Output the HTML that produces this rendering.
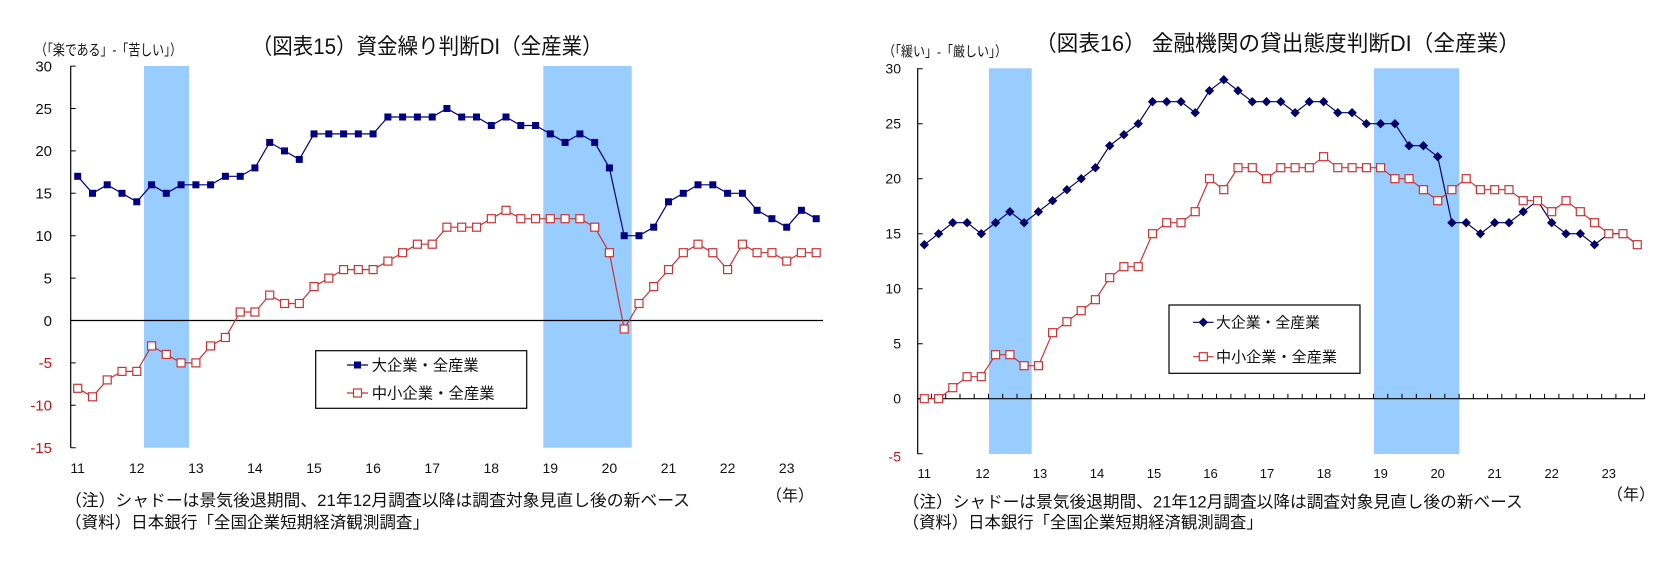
<!DOCTYPE html>
<html><head><meta charset="utf-8">
<style>
html,body{margin:0;padding:0;background:#fff;}
svg{display:block;}
text{font-family:"Liberation Sans","Noto Sans CJK JP",sans-serif;fill:#111;}
</style></head>
<body>
<svg width="1667" height="565" viewBox="0 0 1667 565" xmlns="http://www.w3.org/2000/svg">
<defs>
<marker id="mSq" markerUnits="userSpaceOnUse" markerWidth="10" markerHeight="10" refX="5" refY="5" overflow="visible">
<rect x="1.5" y="1.5" width="7" height="7" fill="#000080"/>
</marker>
<marker id="mOSq" markerUnits="userSpaceOnUse" markerWidth="12" markerHeight="12" refX="6" refY="6" overflow="visible">
<rect x="2" y="2" width="8" height="8" fill="#fff" stroke="#cc3333" stroke-width="1.2"/>
</marker>
<marker id="mDia" markerUnits="userSpaceOnUse" markerWidth="12" markerHeight="12" refX="6" refY="6" overflow="visible">
<path d="M6,1.3 L10.7,6 L6,10.7 L1.3,6 Z" fill="#000066"/>
</marker>
</defs>
<rect width="1667" height="565" fill="#fff"/>

<!-- ================= CHART 1 ================= -->
<text x="251.7" y="54" font-size="22" textLength="351" lengthAdjust="spacingAndGlyphs">（図表15）資金繰り判断DI（全産業）</text>
<text x="35" y="55" font-size="15" textLength="147" lengthAdjust="spacingAndGlyphs">（「楽である」-「苦しい」）</text>

<rect x="144" y="66" width="45" height="381.7" fill="#99ccff"/>
<rect x="543.3" y="66" width="88.4" height="381.7" fill="#99ccff"/>

<!-- axis -->
<line x1="70.7" y1="66" x2="70.7" y2="447.7" stroke="#000" stroke-width="1.2"/>
<path d="M70.7,66.1H75.7M70.7,108.5H75.7M70.7,150.9H75.7M70.7,193.3H75.7M70.7,235.7H75.7M70.7,278.1H75.7M70.7,320.5H75.7M70.7,362.9H75.7M70.7,405.3H75.7M70.7,447.7H75.7" stroke="#000" stroke-width="1"/>
<line x1="70.7" y1="320.5" x2="823" y2="320.5" stroke="#000" stroke-width="1.2"/>

<g font-size="15" text-anchor="end">
<text x="52" y="71.4">30</text>
<text x="52" y="113.8">25</text>
<text x="52" y="156.2">20</text>
<text x="52" y="198.6">15</text>
<text x="52" y="241">10</text>
<text x="52" y="283.4">5</text>
<text x="52" y="325.8">0</text>
<text x="52" y="368.2" style="fill:#cc1111">-5</text>
<text x="52" y="410.6" style="fill:#cc1111">-10</text>
<text x="52" y="453" style="fill:#cc1111">-15</text>
</g>

<g font-size="14" text-anchor="middle">
<text x="77.7" y="473">11</text>
<text x="136.8" y="473">12</text>
<text x="195.9" y="473">13</text>
<text x="254.9" y="473">14</text>
<text x="314" y="473">15</text>
<text x="373.1" y="473">16</text>
<text x="432.2" y="473">17</text>
<text x="491.3" y="473">18</text>
<text x="550.3" y="473">19</text>
<text x="609.4" y="473">20</text>
<text x="668.5" y="473">21</text>
<text x="727.6" y="473">22</text>
<text x="786.7" y="473">23</text>
</g>
<text x="790" y="501" font-size="16" text-anchor="middle">（年）</text>

<!-- series -->
<polyline fill="none" stroke="#000080" stroke-width="1.2" marker-start="url(#mSq)" marker-mid="url(#mSq)" marker-end="url(#mSq)"
points="77.7,176.3 92.5,193.3 107.2,184.8 122.0,193.3 136.8,201.8 151.6,184.8 166.3,193.3 181.1,184.8 195.9,184.8 210.6,184.8 225.4,176.3 240.2,176.3 254.9,167.9 269.7,142.4 284.5,150.9 299.3,159.4 314.0,133.9 328.8,133.9 343.6,133.9 358.3,133.9 373.1,133.9 387.9,117.0 402.6,117.0 417.4,117.0 432.2,117.0 446.9,108.5 461.7,117.0 476.5,117.0 491.3,125.5 506.0,117.0 520.8,125.5 535.6,125.5 550.3,133.9 565.1,142.4 579.9,133.9 594.7,142.4 609.4,167.9 624.2,235.7 639.0,235.7 653.7,227.2 668.5,201.8 683.3,193.3 698.0,184.8 712.8,184.8 727.6,193.3 742.4,193.3 757.1,210.3 771.9,218.7 786.7,227.2 801.4,210.3 816.2,218.7"/>
<polyline fill="none" stroke="#cc3333" stroke-width="1.2" marker-start="url(#mOSq)" marker-mid="url(#mOSq)" marker-end="url(#mOSq)"
points="77.7,388.3 92.5,396.8 107.2,379.9 122.0,371.4 136.8,371.4 151.6,345.9 166.3,354.4 181.1,362.9 195.9,362.9 210.6,345.9 225.4,337.5 240.2,312.0 254.9,312.0 269.7,295.1 284.5,303.5 299.3,303.5 314.0,286.6 328.8,278.1 343.6,269.6 358.3,269.6 373.1,269.6 387.9,261.1 402.6,252.7 417.4,244.2 432.2,244.2 446.9,227.2 461.7,227.2 476.5,227.2 491.3,218.7 506.0,210.3 520.8,218.7 535.6,218.7 550.3,218.7 565.1,218.7 579.9,218.7 594.7,227.2 609.4,252.7 624.2,329.0 639.0,303.5 653.7,286.6 668.5,269.6 683.3,252.7 698.0,244.2 712.8,252.7 727.6,269.6 742.4,244.2 757.1,252.7 771.9,252.7 786.7,261.1 801.4,252.7 816.2,252.7"/>

<!-- legend 1 -->
<rect x="315.7" y="350.7" width="211" height="57.6" fill="#fff" stroke="#000" stroke-width="1.2"/>
<line x1="347" y1="365" x2="368" y2="365" stroke="#000080" stroke-width="1.2"/>
<rect x="354" y="361.5" width="7" height="7" fill="#000080"/>
<text x="371.7" y="370.5" font-size="15.5" textLength="107" lengthAdjust="spacingAndGlyphs">大企業・全産業</text>
<line x1="347" y1="393" x2="368" y2="393" stroke="#cc3333" stroke-width="1.2"/>
<rect x="353.5" y="389" width="8" height="8" fill="#fff" stroke="#cc3333" stroke-width="1.2"/>
<text x="371.7" y="398.5" font-size="15.5" textLength="123" lengthAdjust="spacingAndGlyphs">中小企業・全産業</text>

<!-- notes 1 -->
<text x="65" y="506" font-size="16.5" textLength="625" lengthAdjust="spacingAndGlyphs">（注）シャドーは景気後退期間、21年12月調査以降は調査対象見直し後の新ベース</text>
<text x="65" y="528" font-size="16.5" textLength="364" lengthAdjust="spacingAndGlyphs">（資料）日本銀行「全国企業短期経済観測調査」</text>

<!-- ================= CHART 2 ================= -->
<text x="1035" y="51" font-size="22" textLength="485" lengthAdjust="spacingAndGlyphs">（図表16） 金融機関の貸出態度判断DI（全産業）</text>
<text x="883" y="56.5" font-size="14" textLength="124" lengthAdjust="spacingAndGlyphs">（「緩い」-「厳しい」）</text>

<rect x="989" y="68.3" width="42.7" height="385.7" fill="#99ccff"/>
<rect x="1374" y="68.3" width="85.3" height="385.7" fill="#99ccff"/>

<line x1="917.7" y1="68.3" x2="917.7" y2="454" stroke="#000" stroke-width="1.2"/>
<path d="M917.7,68.7H922.7M917.7,123.7H922.7M917.7,178.7H922.7M917.7,233.7H922.7M917.7,288.7H922.7M917.7,343.7H922.7M917.7,398.7H922.7M917.7,453.7H922.7" stroke="#000" stroke-width="1"/>
<line x1="917.7" y1="398.7" x2="1644.5" y2="398.7" stroke="#000" stroke-width="1.2"/>
<path stroke="#000" stroke-width="1" d="M931.4,398.7V393.7M945.7,398.7V393.7M960,398.7V393.7M974.2,398.7V393.7M988.5,398.7V393.7M1002.7,398.7V393.7M1017,398.7V393.7M1031.2,398.7V393.7M1045.5,398.7V393.7M1059.8,398.7V393.7M1074,398.7V393.7M1088.3,398.7V393.7M1102.5,398.7V393.7M1116.8,398.7V393.7M1131.1,398.7V393.7M1145.3,398.7V393.7M1159.6,398.7V393.7M1173.8,398.7V393.7M1188.1,398.7V393.7M1202.4,398.7V393.7M1216.6,398.7V393.7M1230.9,398.7V393.7M1245.1,398.7V393.7M1259.4,398.7V393.7M1273.7,398.7V393.7M1287.9,398.7V393.7M1302.2,398.7V393.7M1316.5,398.7V393.7M1330.7,398.7V393.7M1345,398.7V393.7M1359.2,398.7V393.7M1373.5,398.7V393.7M1387.8,398.7V393.7M1402,398.7V393.7M1416.3,398.7V393.7M1430.5,398.7V393.7M1444.8,398.7V393.7M1459.1,398.7V393.7M1473.3,398.7V393.7M1487.6,398.7V393.7M1501.8,398.7V393.7M1516.1,398.7V393.7M1530.4,398.7V393.7M1544.6,398.7V393.7M1558.9,398.7V393.7M1573.1,398.7V393.7M1587.4,398.7V393.7M1601.7,398.7V393.7M1615.9,398.7V393.7M1630.2,398.7V393.7M1644.5,398.7V393.7"/>

<g font-size="14" text-anchor="end">
<text x="901" y="73.7">30</text>
<text x="901" y="128.7">25</text>
<text x="901" y="183.7">20</text>
<text x="901" y="238.7">15</text>
<text x="901" y="293.7">10</text>
<text x="901" y="348.7">5</text>
<text x="901" y="403.7">0</text>
<text x="901" y="461.5" style="fill:#cc1111">-5</text>
</g>

<g font-size="13" text-anchor="middle">
<text x="924.3" y="478">11</text>
<text x="982.5" y="478">12</text>
<text x="1040" y="478">13</text>
<text x="1097" y="478">14</text>
<text x="1154" y="478">15</text>
<text x="1210.5" y="478">16</text>
<text x="1267" y="478">17</text>
<text x="1324" y="478">18</text>
<text x="1380.6" y="478">19</text>
<text x="1437.7" y="478">20</text>
<text x="1494.7" y="478">21</text>
<text x="1551.7" y="478">22</text>
<text x="1608.8" y="478">23</text>
</g>
<text x="1631" y="500" font-size="16" text-anchor="middle">（年）</text>

<polyline fill="none" stroke="#000066" stroke-width="1.2" marker-start="url(#mDia)" marker-mid="url(#mDia)" marker-end="url(#mDia)"
points="924.3,244.7 938.6,233.7 952.8,222.7 967.1,222.7 981.3,233.7 995.6,222.7 1009.9,211.7 1024.1,222.7 1038.4,211.7 1052.6,200.7 1066.9,189.7 1081.2,178.7 1095.4,167.7 1109.7,145.7 1123.9,134.7 1138.2,123.7 1152.5,101.7 1166.7,101.7 1181.0,101.7 1195.2,112.7 1209.5,90.7 1223.8,79.7 1238.0,90.7 1252.3,101.7 1266.5,101.7 1280.8,101.7 1295.1,112.7 1309.3,101.7 1323.6,101.7 1337.8,112.7 1352.1,112.7 1366.4,123.7 1380.6,123.7 1394.9,123.7 1409.1,145.7 1423.4,145.7 1437.7,156.7 1451.9,222.7 1466.2,222.7 1480.4,233.7 1494.7,222.7 1509.0,222.7 1523.2,211.7 1537.5,200.7 1551.7,222.7 1566.0,233.7 1580.3,233.7 1594.5,244.7 1608.8,233.7 1623.0,233.7 1637.3,244.7"/>
<polyline fill="none" stroke="#cc3333" stroke-width="1.2" marker-start="url(#mOSq)" marker-mid="url(#mOSq)" marker-end="url(#mOSq)"
points="924.3,398.7 938.6,398.7 952.8,387.7 967.1,376.7 981.3,376.7 995.6,354.7 1009.9,354.7 1024.1,365.7 1038.4,365.7 1052.6,332.7 1066.9,321.7 1081.2,310.7 1095.4,299.7 1109.7,277.7 1123.9,266.7 1138.2,266.7 1152.5,233.7 1166.7,222.7 1181.0,222.7 1195.2,211.7 1209.5,178.7 1223.8,189.7 1238.0,167.7 1252.3,167.7 1266.5,178.7 1280.8,167.7 1295.1,167.7 1309.3,167.7 1323.6,156.7 1337.8,167.7 1352.1,167.7 1366.4,167.7 1380.6,167.7 1394.9,178.7 1409.1,178.7 1423.4,189.7 1437.7,200.7 1451.9,189.7 1466.2,178.7 1480.4,189.7 1494.7,189.7 1509.0,189.7 1523.2,200.7 1537.5,200.7 1551.7,211.7 1566.0,200.7 1580.3,211.7 1594.5,222.7 1608.8,233.7 1623.0,233.7 1637.3,244.7"/>

<!-- legend 2 -->
<rect x="1169" y="305" width="191" height="68.3" fill="#fff" stroke="#000" stroke-width="1.2"/>
<line x1="1193" y1="322.3" x2="1213.5" y2="322.3" stroke="#000066" stroke-width="1.2"/>
<path d="M1203.3,317.6 L1208,322.3 L1203.3,327 L1198.6,322.3 Z" fill="#000066"/>
<text x="1216" y="327.5" font-size="15" textLength="104" lengthAdjust="spacingAndGlyphs">大企業・全産業</text>
<line x1="1193" y1="356.7" x2="1213.5" y2="356.7" stroke="#cc3333" stroke-width="1.2"/>
<rect x="1199.3" y="352.7" width="8" height="8" fill="#fff" stroke="#cc3333" stroke-width="1.2"/>
<text x="1216" y="362" font-size="15" textLength="121" lengthAdjust="spacingAndGlyphs">中小企業・全産業</text>

<!-- notes 2 -->
<text x="902.7" y="507.7" font-size="16.5" textLength="620" lengthAdjust="spacingAndGlyphs">（注）シャドーは景気後退期間、21年12月調査以降は調査対象見直し後の新ベース</text>
<text x="902.7" y="528" font-size="16.5" textLength="360" lengthAdjust="spacingAndGlyphs">（資料）日本銀行「全国企業短期経済観測調査」</text>
</svg>
</body></html>
